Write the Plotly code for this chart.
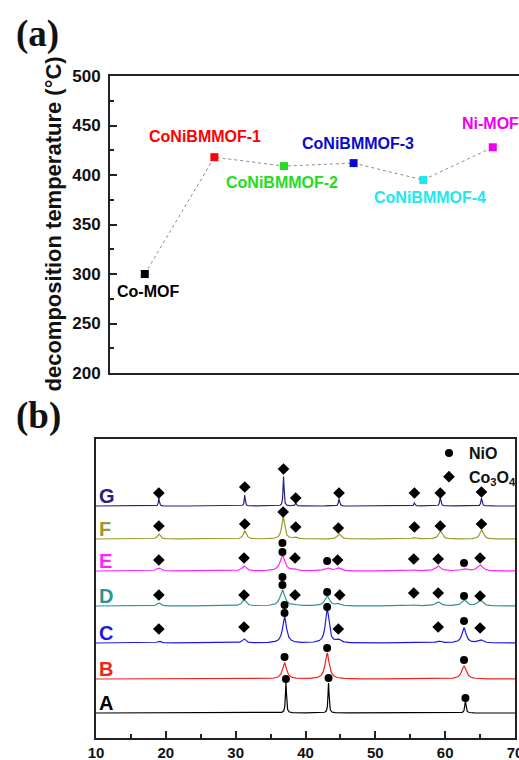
import numpy as np
import plotly.graph_objects as go

W, H = 519, 760

# ---------------- Panel (a) data ----------------
a_names = ["Co-MOF", "CoNiBMMOF-1", "CoNiBMMOF-2", "CoNiBMMOF-3", "CoNiBMMOF-4", "Ni-MOF"]
a_index = [1, 2, 3, 4, 5, 6]
a_temps = [300, 418, 409, 412, 395, 428]
a_colors = ["#000000", "#FF0000", "#22DD22", "#0A0ACC", "#22E6EE", "#EE00EE"]
# label offsets in pixels (layout only)
a_label_dx = [3, -9, -2, 4, 7, -2]
a_label_dy = [-17, 21, -16, 20, -18, 24]

# ---------------- Panel (b) data ----------------
b_samples = ["A", "B", "C", "D", "E", "F", "G"]
b_colors = ["#000000", "#F02222", "#1A1AE6", "#2E9494", "#FF22FF", "#9A9A2E", "#23237E"]
b_offsets = [25, 59, 95, 132, 167, 199, 232]
# peaks per sample: (2theta, height, half-width)
b_peaks = {
    "A": [(37.2, 30, 0.09), (43.3, 30, 0.09), (62.9, 12, 0.11)],
    "B": [(37.0, 16, 0.35), (43.1, 26, 0.35), (62.7, 13, 0.4)],
    "C": [(19.0, 2, 0.3), (31.2, 4, 0.3), (37.0, 26, 0.33), (43.1, 34, 0.3), (44.7, 3, 0.4),
          (59.1, 2, 0.4), (62.7, 15, 0.35), (65.1, 3, 0.4)],
    "D": [(19.0, 3, 0.3), (31.2, 6, 0.35), (36.7, 16, 0.4), (38.5, 1, 0.4), (43.1, 10, 0.4),
          (44.7, 2, 0.4), (55.5, 1, 0.4), (59.0, 4, 0.45), (62.7, 6, 0.4), (65.0, 6, 0.4)],
    "E": [(19.0, 3, 0.35), (31.2, 5, 0.35), (36.7, 16, 0.4), (38.5, 1.5, 0.4), (43.1, 3, 0.5),
          (44.7, 3, 0.4), (55.5, 1, 0.4), (59.0, 5, 0.45), (62.7, 2, 0.5), (65.0, 6, 0.45)],
    "F": [(19.0, 5, 0.25), (31.3, 8, 0.25), (36.8, 22, 0.25), (38.5, 2, 0.3), (44.8, 5, 0.3),
          (55.6, 1.5, 0.3), (59.3, 8, 0.3), (65.2, 9, 0.3)],
    "G": [(19.0, 8, 0.08), (31.3, 11, 0.08), (36.85, 30, 0.08), (38.6, 3, 0.1), (44.8, 7, 0.1),
          (55.6, 3, 0.1), (59.3, 9, 0.1), (65.2, 8, 0.1)],
}
nio_x = [37.2, 43.3, 62.9,
         37.0, 43.1, 62.7,
         37.0, 37.0, 43.1, 62.7,
         36.7, 36.7, 43.1, 62.7,
         36.7, 36.7, 43.1, 62.7]
nio_y = [59, 60, 40,
         81, 90, 78,
         133, 125, 131, 117,
         161, 153, 146, 142,
         195, 186, 177, 175]
co_x = [19.0, 31.2, 44.7, 59.0, 65.0,
        19.0, 31.2, 38.5, 44.9, 55.5, 59.0, 65.0,
        19.0, 31.2, 38.5, 44.6, 55.5, 59.0, 65.0,
        19.0, 31.3, 36.8, 38.6, 44.7, 55.6, 59.3, 65.2,
        19.0, 31.3, 36.85, 38.6, 44.8, 55.6, 59.3, 65.2]
co_y = [109, 111, 109, 111, 110,
        143, 143, 143, 143, 145, 145, 142,
        178, 180, 180, 178, 179, 179, 180,
        212, 214, 226, 211, 210, 211, 212, 214,
        245, 251, 269, 240, 245, 245, 245, 246]
two_theta = np.arange(10.0, 70.0001, 0.02)

FONT = "Liberation Sans, Arial, sans-serif"
SERIF = "Liberation Serif, Times New Roman, serif"
LINE = "#222222"

fig = go.Figure()

# Panel (a)
fig.add_trace(go.Scatter(
    x=a_index, y=a_temps, mode="lines+markers",
    line=dict(color="#8c8c8c", width=1, dash="dot"),
    marker=dict(symbol="square", size=8, color=a_colors),
    xaxis="x", yaxis="y", showlegend=False, hoverinfo="skip"))

# Panel (b) patterns
for s, c, off in zip(b_samples, b_colors, b_offsets):
    prof = np.full_like(two_theta, float(off))
    for p, h, w in b_peaks[s]:
        prof += h / (1.0 + ((two_theta - p) / w) ** 2)
    fig.add_trace(go.Scatter(x=two_theta, y=prof, mode="lines",
                             line=dict(color=c, width=1.2),
                             xaxis="x2", yaxis="y2", showlegend=False, hoverinfo="skip"))

fig.add_trace(go.Scatter(x=nio_x, y=nio_y, mode="markers", name="NiO",
                         marker=dict(symbol="circle", size=8, color="black"),
                         xaxis="x2", yaxis="y2"))
fig.add_trace(go.Scatter(x=co_x, y=co_y, mode="markers", name="Co<sub>3</sub>O<sub>4</sub>",
                         marker=dict(symbol="diamond", size=9, color="black"),
                         xaxis="x2", yaxis="y2"))

annotations = []
for n, xi, t, c, dx, dy in zip(a_names, a_index, a_temps, a_colors, a_label_dx, a_label_dy):
    annotations.append(dict(x=xi, y=t, xref="x", yref="y", text=n, showarrow=False,
                            xshift=dx, yshift=dy,
                            font=dict(family=FONT, size=16, color=c, weight="bold")))
for s, c, off in zip(b_samples, b_colors, b_offsets):
    annotations.append(dict(x=10.1, y=off, xref="x2", yref="y2", text=s, showarrow=False,
                            xanchor="left", yanchor="bottom", yshift=-3,
                            font=dict(family=FONT, size=20, color=c, weight="bold")))
annotations += [
    dict(x=53 / W, y=1 - 224.5 / H, xref="paper", yref="paper", showarrow=False,
         text="decomposition temperature (°C)", textangle=-90,
         xanchor="center", yanchor="middle",
         font=dict(family=FONT, size=22, color="#111", weight="bold")),
    dict(x=37 / W, y=1 - 34 / H, xref="paper", yref="paper", showarrow=False, text="(a)",
         xanchor="center", yanchor="middle",
         font=dict(family=SERIF, size=37, color="#111", weight="bold")),
    dict(x=38 / W, y=1 - 416 / H, xref="paper", yref="paper", showarrow=False, text="(b)",
         xanchor="center", yanchor="middle",
         font=dict(family=SERIF, size=37, color="#111", weight="bold")),
]

fig.update_layout(
    width=W, height=H, margin=dict(l=0, r=0, t=0, b=0, autoexpand=False),
    paper_bgcolor="white", plot_bgcolor="white",
    font=dict(family=FONT, color="#111"),
    showlegend=True,
    legend=dict(x=429 / W, y=1 - 436 / H, xanchor="left", yanchor="top",
                bgcolor="rgba(0,0,0,0)", borderwidth=0,
                font=dict(family=FONT, size=16, color="#111", weight="bold"),
                itemwidth=30, tracegroupgap=0),
    xaxis=dict(domain=[110 / W, 1.0], range=[0.5, 0.5 + 409 / 69.6], anchor="y",
               showline=True, mirror=True, linecolor=LINE, linewidth=2,
               showticklabels=False, ticks="", showgrid=False, zeroline=False),
    yaxis=dict(domain=[1 - 373 / H, 1 - 76 / H], range=[200, 500], anchor="x",
               showline=True, mirror=False, linecolor=LINE, linewidth=2,
               ticks="inside", ticklen=7, tickwidth=1.5, tickcolor=LINE, dtick=50,
               minor=dict(ticks="inside", ticklen=4, dtick=25, tickcolor=LINE, showgrid=False),
               tickfont=dict(family=FONT, size=17, color="#111", weight="bold"),
               ticklabelstandoff=4,
               showgrid=False, zeroline=False),
    xaxis2=dict(domain=[96 / W, 515 / W], range=[10, 70], anchor="y2",
                showline=True, mirror=True, linecolor=LINE, linewidth=2,
                ticks="inside", ticklen=7, tickwidth=1.5, tickcolor=LINE, dtick=10,
                minor=dict(ticks="inside", ticklen=4, dtick=5, tickcolor=LINE, showgrid=False),
                tickfont=dict(family=FONT, size=15, color="#111", weight="bold"),
                ticklabelstandoff=0, ticklabeloverflow="allow",
                showgrid=False, zeroline=False),
    yaxis2=dict(domain=[1 - 738 / H, 1 - 439 / H], range=[0, 299], anchor="x2",
                showline=True, mirror=True, linecolor=LINE, linewidth=2,
                showticklabels=False, ticks="", showgrid=False, zeroline=False),
    annotations=annotations,
)

fig.write_html("out.html")
